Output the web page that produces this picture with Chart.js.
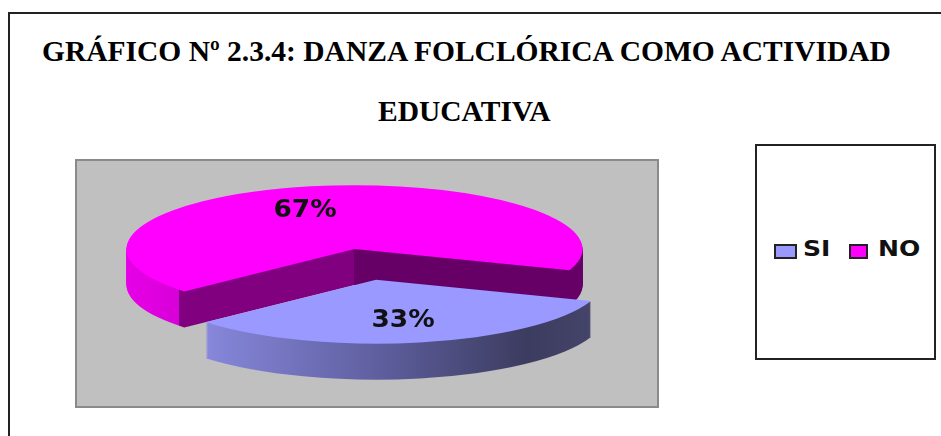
<!DOCTYPE html>
<html>
<head>
<meta charset="utf-8">
<style>
  html, body { margin: 0; padding: 0; background: #fff; }
  body { position: relative; width: 941px; height: 436px; overflow: hidden; filter: blur(0.4px); }
  #frame { position: absolute; left: 8px; top: 12px; width: 940px; height: 430px; border-left: 2px solid #222; border-top: 2px solid #222; }
  .title { position: absolute; font: bold 29.5px "Liberation Serif", serif; color: #000; white-space: nowrap; }
  #panel { position: absolute; left: 75px; top: 159px; width: 580px; height: 245px; background: #c0c0c0; border: 2px solid #8a8a8a; }
  #legend { position: absolute; left: 755px; top: 144px; width: 177px; height: 212px; border: 2px solid #222; }
  .swatch { position: absolute; top: 98px; height: 11px; border: 2px solid #222; }
  .legend-text { position: absolute; top: 90px; font: bold 22px "DejaVu Sans", sans-serif; color: #111; transform: scaleX(1.14); transform-origin: left top; }
  canvas { position: absolute; left: 0; top: 0; }
</style>
</head>
<body>
<div id="frame"></div>
<div class="title" id="title1" style="left:42px; top:35px"></div>
<div class="title" id="title2" style="left:378px; top:95px"></div>
<div id="panel"></div>
<div id="legend"></div>
<canvas id="pieChart" width="941" height="436"></canvas>
<script src="https://cdn.jsdelivr.net/npm/chart.js@4"></script>
<script>
const TITLE_LINES = ['GRÁFICO Nº 2.3.4: DANZA FOLCLÓRICA COMO ACTIVIDAD', 'EDUCATIVA'];
const CATEGORIES = ['SI', 'NO'];
const VALUES = [33, 67];
const COLORS = ['#9999ff', '#ff00ff'];

const TILT = 0.28;
const DEPTH = 36;
const RADIUS = 228;
const EXPLODE = [112, 0];
const LABEL_POS = [[403, 321], [305, 211]];
const DRAW_ORDER = [1, 0];

document.getElementById('title1').textContent = TITLE_LINES[0];
document.getElementById('title2').textContent = TITLE_LINES[1];

// legend box sits apart from the plot, same as the original
const legendBox = document.getElementById('legend');
const legendX = [[17, 46], [92, 121]];
const swatchW = [19, 15];
CATEGORIES.forEach((name, i) => {
  const sw = document.createElement('div');
  sw.className = 'swatch';
  sw.style.left = legendX[i][0] + 'px';
  sw.style.width = swatchW[i] + 'px';
  sw.style.background = COLORS[i];
  legendBox.appendChild(sw);
  const txt = document.createElement('div');
  txt.className = 'legend-text';
  txt.style.left = legendX[i][1] + 'px';
  txt.textContent = name;
  legendBox.appendChild(txt);
});

function sideFill(ctx, cx, i) {
  const g = ctx.createLinearGradient(cx - RADIUS, 0, cx + RADIUS, 0);
  if (i === 1) {
    g.addColorStop(0, '#e600e6');
    g.addColorStop(0.115, '#d800d8');
    g.addColorStop(0.115, '#800080');
    g.addColorStop(0.5, '#800080');
    g.addColorStop(0.5, '#660066');
    g.addColorStop(1, '#660066');
  } else {
    g.addColorStop(0.1, '#8a8ae0');
    g.addColorStop(0.5, '#5f5fa0');
    g.addColorStop(0.83, '#3c3c60');
    g.addColorStop(1, '#46466c');
  }
  return g;
}

const pie3d = {
  id: 'pie3d',
  beforeDatasetDraw(chart, args) {
    const ctx = chart.ctx;
    const arcs = args.meta.data;
    const cx = arcs[0].x;
    const cy = arcs[0].y;
    DRAW_ORDER.forEach((i) => {
      const arc = arcs[i];
      const mid = (arc.startAngle + arc.endAngle) / 2;
      const side = Object.create(arc);
      side.options = { ...arc.options, backgroundColor: sideFill(ctx, cx, i) };
      ctx.save();
      ctx.translate(0, cy);
      ctx.scale(1, TILT);
      ctx.translate(0, -cy);
      ctx.translate(Math.cos(mid) * EXPLODE[i], Math.sin(mid) * EXPLODE[i]);
      for (let d = DEPTH; d > 0; d--) {
        ctx.save();
        ctx.translate(0, d / TILT);
        side.draw(ctx);
        ctx.restore();
      }
      arc.draw(ctx);
      ctx.restore();
    });
    return false;
  },
  afterDatasetsDraw(chart) {
    const ctx = chart.ctx;
    const total = VALUES.reduce((a, b) => a + b, 0);
    ctx.save();
    ctx.font = 'bold 24px "DejaVu Sans", sans-serif';
    ctx.fillStyle = '#111';
    ctx.textAlign = 'center';
    ctx.textBaseline = 'middle';
    VALUES.forEach((v, i) => {
      ctx.save();
      ctx.translate(LABEL_POS[i][0], LABEL_POS[i][1]);
      ctx.scale(1.1, 1);
      ctx.fillText(Math.round((v / total) * 100) + '%', 0, 0);
      ctx.restore();
    });
    ctx.restore();
  },
};

new Chart(document.getElementById('pieChart'), {
  type: 'pie',
  data: {
    labels: CATEGORIES,
    datasets: [{ data: VALUES, backgroundColor: COLORS, borderWidth: 0 }],
  },
  options: {
    responsive: false,
    animation: false,
    rotation: 109.5,
    radius: RADIUS,
    layout: { padding: { left: 0, right: 232, top: 62, bottom: 0 } },
    plugins: { legend: { display: false }, tooltip: { enabled: false } },
  },
  plugins: [pie3d],
});
</script>
</body>
</html>
